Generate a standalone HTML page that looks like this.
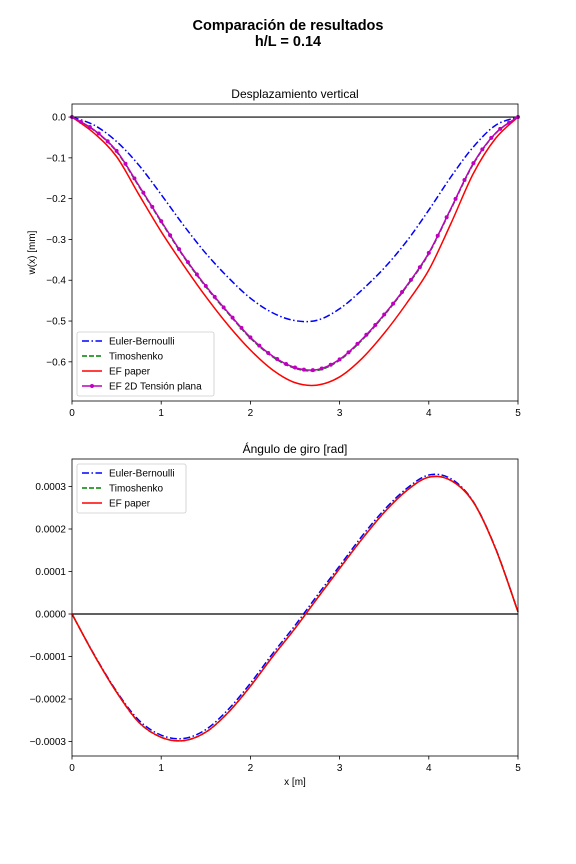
<!DOCTYPE html>
<html><head><meta charset="utf-8">
<style>
body{margin:0;background:#fff;}
svg{display:block;font-family:"Liberation Sans","DejaVu Sans",sans-serif;}
</style></head>
<body>
<svg id="fig" width="576" height="864" viewBox="0 0 576 864" xmlns="http://www.w3.org/2000/svg">
<rect width="576" height="864" fill="#fff"/>
<text x="288" y="30" text-anchor="middle" font-size="14.5" font-weight="bold">Comparación de resultados</text>
<text x="288" y="46" text-anchor="middle" font-size="14.5" font-weight="bold">h/L = 0.14</text>
<g id="top"></g>
<g id="bot"></g>
</svg>
<script>
// ---- data ----
const xTop = [0,0.25,0.5,0.75,1,1.25,1.5,1.75,2,2.25,2.5,2.75,3,3.25,3.5,3.75,4,4.25,4.5,4.75,5];
const wEuler = [0,-0.02,-0.06,-0.118,-0.19,-0.265,-0.334,-0.393,-0.444,-0.48,-0.499,-0.498,-0.47,-0.424,-0.37,-0.305,-0.228,-0.146,-0.073,-0.02,0];
const wTimo = [0,-0.033,-0.085,-0.17,-0.257,-0.342,-0.416,-0.481,-0.542,-0.588,-0.616,-0.621,-0.596,-0.547,-0.486,-0.416,-0.335,-0.225,-0.115,-0.04,0];
const wPaper = [0,-0.04,-0.097,-0.19,-0.281,-0.363,-0.44,-0.51,-0.571,-0.62,-0.651,-0.657,-0.637,-0.592,-0.53,-0.457,-0.375,-0.26,-0.138,-0.052,0];
const w2D = [0,-0.032,-0.083,-0.168,-0.255,-0.34,-0.414,-0.479,-0.54,-0.586,-0.614,-0.619,-0.594,-0.545,-0.484,-0.414,-0.333,-0.223,-0.113,-0.039,0];
const xBot = [0,0.25,0.5,0.75,1,1.25,1.5,1.75,2,2.25,2.5,2.75,3,3.25,3.5,3.75,4,4.25,4.5,4.75,5];
const rEuler = [0,-0.96,-1.82,-2.5,-2.85,-2.93,-2.72,-2.25,-1.63,-0.93,-0.27,0.44,1.13,1.83,2.45,2.95,3.27,3.18,2.64,1.54,0.05];
const rTimo = [0,-0.97,-1.84,-2.55,-2.9,-2.98,-2.78,-2.32,-1.7,-1.0,-0.34,0.37,1.07,1.76,2.39,2.9,3.22,3.14,2.63,1.53,0.05];
const rPaper = [0,-0.97,-1.84,-2.55,-2.9,-2.98,-2.78,-2.32,-1.7,-1.0,-0.34,0.37,1.07,1.76,2.39,2.9,3.22,3.14,2.63,1.53,0.05];
const xTicks = [0,1,2,3,4,5];
const yTicksTop = [0,-0.1,-0.2,-0.3,-0.4,-0.5,-0.6];
const yTickLabelsTop = ["0.0","−0.1","−0.2","−0.3","−0.4","−0.5","−0.6"];
const yTicksBot = [3,2,1,0,-1,-2,-3];
const yTickLabelsBot = ["0.0003","0.0002","0.0001","0.0000","−0.0001","−0.0002","−0.0003"];

const NS="http://www.w3.org/2000/svg";
function mk(tag,attrs,parent){const e=document.createElementNS(NS,tag);for(const k in attrs)e.setAttribute(k,attrs[k]);parent.appendChild(e);return e;}
function spline(pts){
  let d="M"+pts[0][0]+","+pts[0][1];
  for(let i=0;i<pts.length-1;i++){
    const p0=pts[Math.max(0,i-1)],p1=pts[i],p2=pts[i+1],p3=pts[Math.min(pts.length-1,i+2)];
    const c1=[p1[0]+(p2[0]-p0[0])/6,p1[1]+(p2[1]-p0[1])/6];
    const c2=[p2[0]-(p3[0]-p1[0])/6,p2[1]-(p3[1]-p1[1])/6];
    d+=" C"+c1[0]+","+c1[1]+" "+c2[0]+","+c2[1]+" "+p2[0]+","+p2[1];
  }
  return d;
}
function axes(g,o){
  const X=v=>o.x0+(v-0)/5*(o.x1-o.x0);
  const Y=v=>o.y0+(o.ymax-v)/(o.ymax-o.ymin)*(o.y1-o.y0);
  const z=mk('line',{x1:o.x0,x2:o.x1,y1:Y(0),y2:Y(0),stroke:'#000','stroke-width':1.2},g);
  
  
  o.series.forEach(s=>{
    const pts=s.xs.map((x,i)=>[X(x),Y(s.ys[i])]);
    const p=mk('path',{d:spline(pts),fill:'none',stroke:s.color,'stroke-width':1.5},g);
    if(s.dash)p.setAttribute('stroke-dasharray',s.dash);
    
    
    if(s.markers){
      const len=p.getTotalLength();
      for(let k=0;k<=50;k++){
        const tx=X(k*0.1);let lo=0,hi=len;
        for(let it=0;it<30;it++){const m=(lo+hi)/2;if(p.getPointAtLength(m).x<tx)lo=m;else hi=m;}
        const pt=p.getPointAtLength(lo);
        const c=mk('circle',{cx:pt.x,cy:pt.y,r:2,fill:s.color},g);
        
        
      }
    }
  });
  const fr=mk('rect',{x:o.x0,y:o.y0,width:o.x1-o.x0,height:o.y1-o.y0,fill:'none',stroke:'#000','stroke-width':0.8},g);
  
  
  xTicks.forEach(t=>{
    mk('line',{x1:X(t),x2:X(t),y1:o.y1,y2:o.y1+3.5,stroke:'#000','stroke-width':0.8},g);
    const tl=mk('text',{x:X(t),y:o.y1+15,'text-anchor':'middle','font-size':10},g);
    tl.textContent=t;
    
    
  });
  o.yt.forEach((t,i)=>{
    mk('line',{x1:o.x0-3.5,x2:o.x0,y1:Y(t),y2:Y(t),stroke:'#000','stroke-width':0.8},g);
    const tl=mk('text',{x:o.x0-6,y:Y(t)+3.5,'text-anchor':'end','font-size':10},g);
    tl.textContent=o.yl[i];
    
    
  });
  const ti=mk('text',{x:(o.x0+o.x1)/2,y:o.y0-6,'text-anchor':'middle','font-size':12},g);
  ti.textContent=o.title;
  
  
  if(o.ylabel){
    const yl=mk('text',{x:0,y:0,'text-anchor':'middle','font-size':10,transform:`translate(35,${(o.y0+o.y1)/2}) rotate(-90)`},g);
    yl.textContent=o.ylabel;
    
    
  }
  if(o.xlabel){
    const xl=mk('text',{x:(o.x0+o.x1)/2,y:o.y1+29,'text-anchor':'middle','font-size':10},g);
    xl.textContent=o.xlabel;
    
    
  }
  const lg=mk('g',{},g);
  
  
  mk('rect',{x:o.lx,y:o.ly,width:o.lw,height:o.series.length*15+4,rx:2,fill:'#fff','fill-opacity':0.8,stroke:'#ccc','stroke-width':0.8},lg);
  o.series.forEach((s,i)=>{
    const yy=o.ly+9+i*15;
    const l=mk('line',{x1:o.lx+5,x2:o.lx+25,y1:yy,y2:yy,stroke:s.color,'stroke-width':1.5},lg);
    if(s.dash)l.setAttribute('stroke-dasharray',s.dash);
    if(s.markers)mk('circle',{cx:o.lx+15,cy:yy,r:2,fill:s.color},lg);
    const t=mk('text',{x:o.lx+32,y:yy+3.5,'font-size':10},lg);
    t.textContent=s.label;
    
    
  });
}
axes(document.getElementById('top'),{x0:72,x1:518,y0:104,y1:401,ymax:0.032,ymin:-0.696,
  yt:yTicksTop,yl:yTickLabelsTop,title:"Desplazamiento vertical",ylabel:"w(x) [mm]",
  lx:77,ly:332,lw:137,
  series:[
    {name:'euler-line',label:'Euler-Bernoulli',xs:xTop,ys:wEuler,color:'#0000ff',dash:'7,2.5,1.5,2.5'},
    {name:'timoshenko-line',label:'Timoshenko',xs:xTop,ys:wTimo,color:'#008000',dash:'5,2'},
    {name:'ef-paper-line',label:'EF paper',xs:xTop,ys:wPaper,color:'#ff0000'},
    {name:'ef-2d-line',label:'EF 2D Tensión plana',xs:xTop,ys:w2D,color:'#bf00bf',markers:true}
  ]});
axes(document.getElementById('bot'),{x0:72,x1:518,y0:459,y1:756,ymax:3.647,ymin:-3.341,
  yt:yTicksBot,yl:yTickLabelsBot,title:"Ángulo de giro [rad]",xlabel:"x [m]",
  lx:77,ly:464,lw:109,
  series:[
    {name:'euler-rotation-line',label:'Euler-Bernoulli',xs:xBot,ys:rEuler,color:'#0000ff',dash:'7,2.5,1.5,2.5'},
    {name:'timoshenko-rotation-line',label:'Timoshenko',xs:xBot,ys:rTimo,color:'#008000',dash:'5,2'},
    {name:'ef-paper-rotation-line',label:'EF paper',xs:xBot,ys:rPaper,color:'#ff0000'}
  ]});
</script>
</body></html>
